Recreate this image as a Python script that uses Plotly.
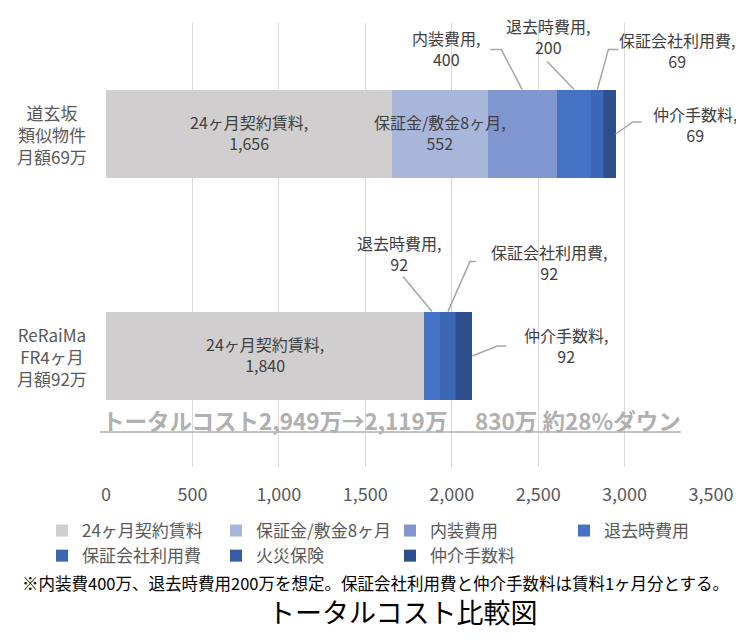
import plotly.graph_objects as go

# Data (万円)
categories = ["道玄坂<br>類似物件<br>月額69万", "ReRaiMa<br>FR4ヶ月<br>月額92万"]
series_names = ["24ヶ月契約賃料", "保証金/敷金8ヶ月", "内装費用", "退去時費用",
                "保証会社利用費", "火災保険", "仲介手数料"]
rent_24m = [1656, 1840]
deposit_8m = [552, 0]
interior = [400, 0]
moveout = [200, 92]
guarantor = [69, 92]
fire_insurance = [3, 3]
brokerage = [69, 92]

colors = ["#D0CECE", "#A9B6DB", "#8096CF", "#4472C4", "#3C67B4", "#355DA6", "#2F4F8C"]
note = "※内装費400万、退去時費用200万を想定。保証会社利用費と仲介手数料は賃料1ヶ月分とする。"
title = "トータルコスト比較図"

FONT = "Noto Sans CJK JP"
LABEL_GRAY = "#404040"
AXIS_GRAY = "#595959"
LEADER = "#A6A6A6"
BAR_W = 0.4

# the page body has an 8px margin, so the figure is 16px smaller than the window
PAGE_W, PAGE_H, BODY = 744, 639, 8
W, H = PAGE_W - 2 * BODY, PAGE_H - 2 * BODY
PLOT_L, PLOT_R, PLOT_T, PLOT_B = 106, 711, 23, 467   # plot area in window pixels
ML, MR = PLOT_L - BODY, BODY + W - PLOT_R
MT, MB = PLOT_T - BODY, BODY + H - PLOT_B
PW, PH = PLOT_R - PLOT_L, PLOT_B - PLOT_T


def px_x(px):
    return (px - PLOT_L) / PW


def px_y(py):
    return (PLOT_B - py) / PH


series = [rent_24m, deposit_8m, interior, moveout, guarantor, fire_insurance, brokerage]
ypos = list(range(len(categories)))

fig = go.Figure()
for i, (name, vals) in enumerate(zip(series_names, series)):
    fig.add_trace(go.Bar(
        y=ypos, x=vals, name=name, orientation="h",
        width=BAR_W,
        marker=dict(color=colors[i], line=dict(width=0)),
        hoverinfo="x+name",
    ))


def seg_start(si, row):
    return sum(series[k][row] for k in range(si))


# labels inside the bar (drawn on top of everything)
for si in (0, 1):
    for row in ypos:
        val = series[si][row]
        if val <= 0:
            continue
        fig.add_annotation(x=seg_start(si, row) + val / 2, y=ypos[row], xref="x", yref="y",
                           text=f"{series_names[si]},<br>{val:,}", showarrow=False,
                           xanchor="center", yanchor="middle", align="center", yshift=2,
                           font=dict(family=FONT, size=16, color=LABEL_GRAY))

# outside labels with leader lines: (series idx, row idx, anchor kind, leader path px, text offset px)
callouts = [
    (2, 0, "top", "M0,0 L-21,40 L-32,40", (-76, 41)),
    (3, 0, "top", "M0,0 L-27,28", (-26, 53)),
    (4, 0, "top", "M0,0 L11,40 L21,40", (80, 39)),
    (6, 0, "end", "M0,0 L17,12 L26,12", (79, 10)),
    (3, 1, "top", "M0,0 L-29,35", (-33, 58)),
    (4, 1, "top", "M0,0 L22,50 L28,50", (101, 49)),
    (6, 1, "end", "M0,0 L25,10 L34,10", (94, 11)),
]
for si, row, kind, path, (dx, dy) in callouts:
    start = seg_start(si, row)
    val = series[si][row]
    if kind == "top":
        ax_x = start + val / 2
        ax_y = ypos[row] - BAR_W / 2
    else:
        ax_x = start + val
        ax_y = ypos[row]
    fig.add_shape(type="path", xref="x", yref="y",
                  xsizemode="pixel", ysizemode="pixel",
                  xanchor=ax_x, yanchor=ax_y, path=path,
                  line=dict(color=LEADER, width=1.5))
    fig.add_annotation(x=ax_x, y=ax_y, xref="x", yref="y",
                       text=f"{series_names[si]},<br>{val:,}",
                       showarrow=False, xshift=dx, yshift=dy,
                       xanchor="center", yanchor="middle", align="center",
                       font=dict(family=FONT, size=16, color=LABEL_GRAY))

# category labels (centered lines)
for row, cat in enumerate(categories):
    fig.add_annotation(x=0, y=ypos[row], xref="x", yref="y", text=cat,
                       showarrow=False, xshift=-54, xanchor="center",
                       yanchor="middle", align="center",
                       font=dict(family=FONT, size=17, color=AXIS_GRAY))

# total cost summary
totals = [sum(s[r] for s in series) for r in range(len(categories))]
saving = totals[0] - totals[1]
pct = round(saving / totals[0] * 100)
summary = f"<b>トータルコスト{totals[0]:,}万→{totals[1]:,}万　 {saving:,}万 約{pct}%ダウン</b>"
fig.add_annotation(x=px_x(100), y=px_y(420), xref="paper", yref="paper", text=summary,
                   showarrow=False, xanchor="left", yanchor="middle",
                   font=dict(family=FONT, size=22.5, color="#B0B0B0"))
fig.add_shape(type="line", xref="paper", yref="paper",
              x0=px_x(100), x1=px_x(681), y0=px_y(432), y1=px_y(432),
              line=dict(color="#B0B0B0", width=1.5))

# footnote and title
fig.add_annotation(x=px_x(375), y=px_y(583), xref="paper", yref="paper",
                   xanchor="center", yanchor="middle", text=note, showarrow=False,
                   font=dict(family=FONT, size=16.5, color="#000000"))
fig.add_annotation(x=px_x(402), y=px_y(611), xref="paper", yref="paper",
                   xanchor="center", yanchor="middle", text=title, showarrow=False,
                   font=dict(family=FONT, size=27, color="#000000"))

fig.update_layout(
    width=W, height=H,
    margin=dict(l=ML, r=MR, t=MT, b=MB, autoexpand=False),
    barmode="stack",
    paper_bgcolor="white", plot_bgcolor="white",
    font=dict(family=FONT, color=AXIS_GRAY),
    showlegend=True,
    legend=dict(orientation="h", traceorder="normal",
                x=px_x(42), y=px_y(513), xanchor="left", yanchor="top",
                entrywidth=129, entrywidthmode="pixels",
                font=dict(family=FONT, size=17, color=AXIS_GRAY),
                itemwidth=30),
    xaxis=dict(range=[0, 3500], dtick=500, tickformat=",",
               showgrid=True, gridcolor="#D9D9D9", gridwidth=1.3,
               zeroline=False, showline=False, ticks="",
               ticklabelstandoff=15,
               tickfont=dict(family=FONT, size=18, color=AXIS_GRAY)),
    yaxis=dict(range=[1.5, -0.5], showgrid=False, zeroline=False,
               showticklabels=False, showline=False),
)

fig.write_html("out.html")
